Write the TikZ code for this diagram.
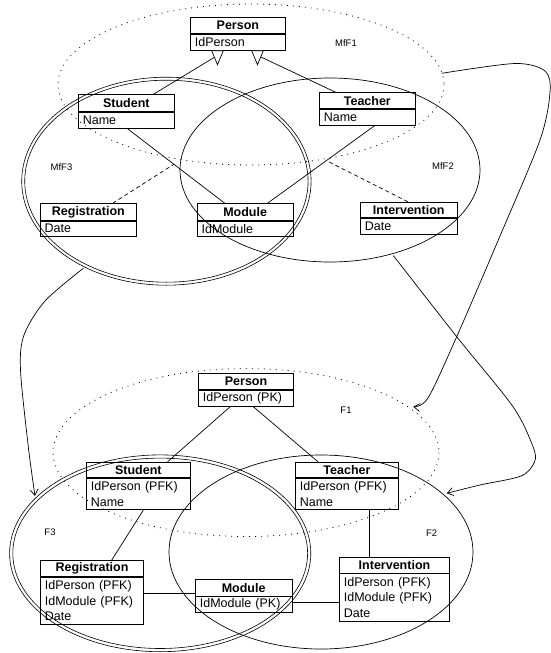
\documentclass[tikz,border=0pt]{standalone}
\usepackage{fontspec}
\setmainfont{Liberation Sans}
\usetikzlibrary{calc,arrows.meta}
\newcommand\hdrfont{\fontsize{12.5}{15.5}\selectfont\bfseries}
\newcommand\bdyfont{\fontsize{12.5}{15.5}\selectfont}
\newcommand\lblfont{\fontsize{9.5}{11}\selectfont}
% name, x, y, width, header height, body height, header, body
\newcommand\umlbox[8]{%
  \pgfmathsetmacro\umltw{#4-9}%
  \node[hdr, minimum width=#4pt, minimum height=#5pt, anchor=north west] (#1h) at (#2,#3) {#7};
  \node[bdy, text width=\umltw pt, minimum height=#6pt, anchor=north west] (#1b) at (#1h.south west) {#8};
}
\begin{document}
\begin{tikzpicture}[x=1pt,y=-1pt,line width=0.7pt,
  hdr/.style={draw, inner sep=0pt, font=\hdrfont},
  bdy/.style={draw, inner ysep=0pt, inner xsep=4.5pt, align=left, font=\bdyfont},
  lbl/.style={font=\lblfont, inner sep=0pt},
  dotell/.style={line width=0.8pt, dash pattern=on 0.9pt off 5.1pt},
  dblline/.style={line width=0.6pt},
  assoc/.style={dash pattern=on 4pt off 3pt},
  arr/.style={-{Straight Barb[length=6pt,width=8pt]}},
  gentri/.style={fill=white}]
\useasboundingbox (0,0) rectangle (551,653);

% ---------- upper (meta) part ----------
\draw[dotell] (251,84.5) ellipse [x radius=193, y radius=80.5];
\draw[dblline] (166.4,181.2) ellipse [x radius=144.7, y radius=104];
\draw[dblline] (166.4,181.2) ellipse [x radius=141.7, y radius=101];
\draw (330,170) ellipse [x radius=150, y radius=92];

\node[lbl] (lmf1) at (346,42.7) {MfF1};
\node[lbl] (lmf3) at (61.5,166.7) {MfF3};
\node[lbl] (lmf2) at (443,166.3) {MfF2};

\umlbox{p1}{190}{17.3}{95}{16}{16}{Person}{IdPerson}
\umlbox{s1}{78}{94.3}{96}{16.5}{16}{Student}{Name}
\umlbox{t1}{319}{92.3}{96}{16}{16}{Teacher}{Name}
\umlbox{r1}{39.7}{203.3}{96.6}{16.5}{15.4}{Registration}{Date}
\umlbox{m1}{196.8}{203.3}{96}{16.5}{15.4}{Module}{IdModule}
\umlbox{i1}{360}{201.7}{96.8}{15.3}{16.3}{Intervention}{Date}

% generalisation
\coordinate (g1) at ($(p1b.south west)+(27.5,4.7)$);
\coordinate (g2) at ($(p1b.south west)+(67.5,4.7)$);
\draw ($(s1h.north west)!0.78!(s1h.north east)$) -- (g1);
\draw ($(t1h.north west)!0.173!(t1h.north east)$) -- (g2);
\draw[gentri] ($(p1b.south west)+(21.7,0)$) -- ++(11.6,0) -- ++(-5.8,14) -- cycle;
\draw[gentri] ($(p1b.south west)+(61.7,0)$) -- ++(11.6,0) -- ++(-5.8,14) -- cycle;

% associations
\coordinate (sm1) at ($(s1b.south west)!0.505!(s1b.south east)$);
\coordinate (sm2) at ($(m1h.north west)!0.29!(m1h.north east)$);
\draw (sm1) -- (sm2);
\coordinate (tm1) at ($(t1b.south west)!0.575!(t1b.south east)$);
\coordinate (tm2) at ($(m1h.north west)!0.73!(m1h.north east)$);
\draw (tm1) -- (tm2);
\draw[assoc] ($(r1h.north west)!0.75!(r1h.north east)$) -- ($(sm1)!0.48!(sm2)$);
\draw[assoc] ($(i1h.north west)!0.49!(i1h.north east)$) -- ($(tm1)!0.45!(tm2)$);

% ---------- lower part ----------
\draw[dotell] (246,452.5) ellipse [x radius=193, y radius=84];
\draw[dblline] (160.2,553.3) ellipse [x radius=150.6, y radius=98.4];
\draw[dblline] (160.2,553.3) ellipse [x radius=147.4, y radius=95.2];
\draw (321,552) ellipse [x radius=152, y radius=97];

\node[lbl] (lf1) at (346,410) {F1};
\node[lbl] (lf3) at (50,532.3) {F3};
\node[lbl] (lf2) at (431.7,533.3) {F2};

\umlbox{p2}{198}{373.3}{95.4}{16}{16}{Person}{IdPerson (PK)}
\umlbox{s2}{86}{461.7}{104}{15.6}{31}{Student}{IdPerson (PFK)\\Name}
\umlbox{t2}{295}{461.7}{103.3}{15.3}{31.5}{Teacher}{IdPerson (PFK)\\Name}
\umlbox{r2}{40}{560}{103.3}{16}{47.3}{Registration}{IdPerson (PFK)\\IdModule (PFK)\\Date}
\umlbox{m2}{195}{579.3}{96.6}{16.4}{15.3}{Module}{IdModule (PK)}
\umlbox{i2}{339}{556.7}{110.3}{16}{47.3}{Intervention}{IdPerson (PFK)\\IdModule (PFK)\\Date}

\draw ($(p2b.south west)!0.335!(p2b.south east)$) -- ($(s2h.north west)!0.78!(s2h.north east)$);
\draw ($(p2b.south west)!0.576!(p2b.south east)$) -- ($(t2h.north west)!0.22!(t2h.north east)$);
\draw ($(s2b.south west)!0.55!(s2b.south east)$) -- ($(r2h.north west)!0.69!(r2h.north east)$);
\coordinate (ti) at ($(t2b.south west)!0.716!(t2b.south east)$);
\draw (ti) -- (ti |- i2h.north);
\coordinate (rm) at ($(m2h.south west)+(0,-3)$);
\draw (r2b.east |- rm) -- (rm);
\coordinate (mi) at ($(m2b.east)+(0,-2)$);
\draw (mi) -- (i2b.west |- mi);

% ---------- mapping arrows ----------
\coordinate (a1s) at (441.7,73.3);
\coordinate (a1e) at (413.3,406.7);
\draw[arr] plot[smooth] coordinates {(a1s) (515,63.5) (545,71) (550,92) (540,140) (498.3,240) (456.7,336.7) (428,398) (a1e)};
\coordinate (a2s) at (393.3,255.5);
\coordinate (a2e) at (446.7,493.3);
\draw[arr] plot[smooth] coordinates {(a2s) (456.7,336.7) (513,406.7) (533,446.7) (534.5,462) (521,476) (480,485) (a2e)};
\coordinate (a3s) at (83.3,268.3);
\coordinate (a3e) at (35,496);
\draw[arr] plot[smooth] coordinates {(a3s) (45,301) (24,335) (20.5,370) (28.3,446.7) (a3e)};
\end{tikzpicture}
\end{document}
